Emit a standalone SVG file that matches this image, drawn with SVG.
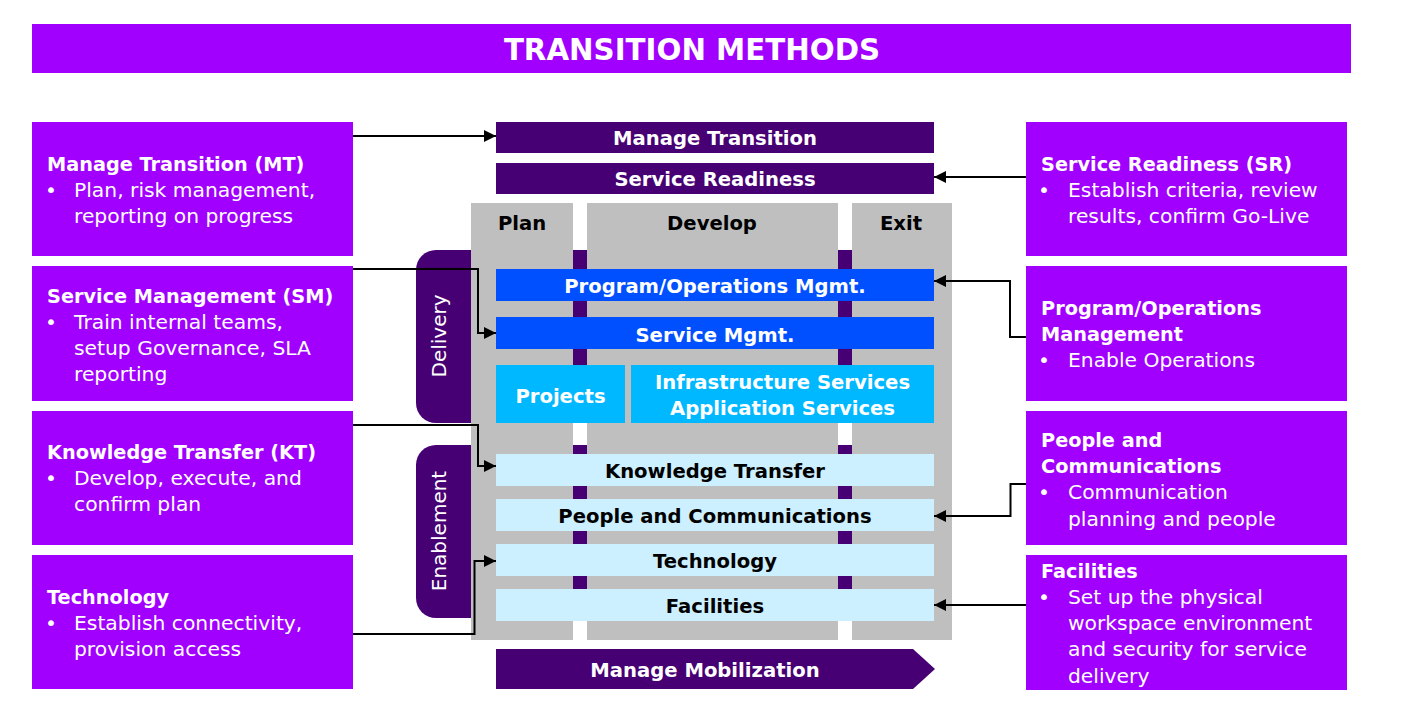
<svg xmlns="http://www.w3.org/2000/svg" width="1410" height="727" viewBox="0 0 1410 727">
<style>
  .box { fill: #A100FF; }
  .dark { fill: #460073; }
  .col { fill: #BFBFBF; }
  .blue { fill: #0050FF; }
  .cyan { fill: #00B8FF; }
  .pale { fill: #CCF0FF; }
  .t { font-family: "DejaVu Sans", "Liberation Sans", sans-serif; }
  .h { font-family: "DejaVu Sans", "Liberation Sans", sans-serif; font-weight: bold; font-size: 19.3px; fill: #FFFFFF; }
  .b { font-family: "DejaVu Sans", "Liberation Sans", sans-serif; font-size: 20.3px; fill: #FFFFFF; }
  .c { font-family: "DejaVu Sans", "Liberation Sans", sans-serif; font-weight: bold; font-size: 19.6px; text-anchor: middle; }
  .w { fill: #FFFFFF; }
  .k { fill: #000000; }
  .side { font-family: "DejaVu Sans", "Liberation Sans", sans-serif; font-size: 20px; fill: #FFFFFF; text-anchor: middle; }
  .conn { fill: none; stroke: #000000; stroke-width: 2; marker-end: url(#arr); }
</style>
<defs>
  <marker id="arr" markerUnits="userSpaceOnUse" markerWidth="14" markerHeight="14" viewBox="0 0 14 14" refX="13" refY="7" orient="auto">
    <path d="M1,1 L13,7 L1,13 Z" fill="#000000"/>
  </marker>
</defs>
<rect width="1410" height="727" fill="#FFFFFF"/>

<g id="title">
  <rect x="32" y="24" width="1319" height="49" class="box"/>
  <text x="692" y="60" text-anchor="middle" class="t" font-weight="bold" font-size="29.3" fill="#FFFFFF">TRANSITION METHODS</text>
</g>

<!-- backgrounds: delivery / enablement pills -->
<g id="delivery">
  <path d="M436,250 H952 V423 H436 A20,20 0 0 1 416,403 V270 A20,20 0 0 1 436,250 Z" class="dark"/>
  <text transform="translate(446,336) rotate(-90)" class="side">Delivery</text>
</g>
<g id="enablement">
  <path d="M436,445 H952 V618 H436 A20,20 0 0 1 416,598 V465 A20,20 0 0 1 436,445 Z" class="dark"/>
  <text transform="translate(446,531) rotate(-90)" class="side">Enablement</text>
</g>

<g id="col-plan">
  <rect x="471" y="203" width="102" height="437" class="col"/>
  <text x="522" y="230" class="c k">Plan</text>
</g>
<g id="col-develop">
  <rect x="587" y="203" width="251" height="437" class="col"/>
  <text x="712" y="230" class="c k">Develop</text>
</g>
<g id="col-exit">
  <rect x="852" y="203" width="100" height="437" class="col"/>
  <text x="901" y="230" class="c k">Exit</text>
</g>

<g id="bar-manage-transition">
  <rect x="496" y="122" width="438" height="31" class="dark"/>
  <text x="715" y="145" class="c w">Manage Transition</text>
</g>
<g id="bar-service-readiness">
  <rect x="496" y="163" width="438" height="31" class="dark"/>
  <text x="715" y="186" class="c w">Service Readiness</text>
</g>
<g id="row-program-ops">
  <rect x="496" y="269" width="438" height="32" class="blue"/>
  <text x="715" y="293" class="c w">Program/Operations Mgmt.</text>
</g>
<g id="row-service-mgmt">
  <rect x="496" y="317" width="438" height="32" class="blue"/>
  <text x="715" y="342" class="c w">Service Mgmt.</text>
</g>
<g id="row-projects">
  <rect x="496" y="365" width="129" height="58" class="cyan"/>
  <text x="560.5" y="403" class="c w">Projects</text>
</g>
<g id="row-infra-app">
  <rect x="631" y="365" width="303" height="58" class="cyan"/>
  <text x="782.5" y="389" class="c w">Infrastructure Services</text>
  <text x="782.5" y="415" class="c w">Application Services</text>
</g>
<g id="row-kt">
  <rect x="496" y="454" width="438" height="32" class="pale"/>
  <text x="715" y="478" class="c k">Knowledge Transfer</text>
</g>
<g id="row-people">
  <rect x="496" y="499" width="438" height="32" class="pale"/>
  <text x="715" y="523" class="c k">People and Communications</text>
</g>
<g id="row-technology">
  <rect x="496" y="544" width="438" height="32" class="pale"/>
  <text x="715" y="568" class="c k">Technology</text>
</g>
<g id="row-facilities">
  <rect x="496" y="589" width="438" height="32" class="pale"/>
  <text x="715" y="613" class="c k">Facilities</text>
</g>
<g id="manage-mobilization">
  <polygon points="496,649 913,649 935,669 913,689 496,689" class="dark"/>
  <text x="705" y="677" class="c w">Manage Mobilization</text>
</g>

<!-- left boxes -->
<g id="box-mt">
  <rect x="32" y="122" width="321" height="134" class="box"/>
  <text x="47" y="171" class="h">Manage Transition (MT)</text>
  <text x="51" y="197" class="b" text-anchor="middle">•</text>
  <text x="74" y="197" class="b">Plan, risk management,</text>
  <text x="74" y="223" class="b">reporting on progress</text>
</g>
<g id="box-sm">
  <rect x="32" y="266" width="321" height="135" class="box"/>
  <text x="47" y="303" class="h">Service Management (SM)</text>
  <text x="51" y="329" class="b" text-anchor="middle">•</text>
  <text x="74" y="329" class="b">Train internal teams,</text>
  <text x="74" y="355" class="b">setup Governance, SLA</text>
  <text x="74" y="381" class="b">reporting</text>
</g>
<g id="box-kt">
  <rect x="32" y="411" width="321" height="134" class="box"/>
  <text x="47" y="459" class="h">Knowledge Transfer (KT)</text>
  <text x="51" y="485" class="b" text-anchor="middle">•</text>
  <text x="74" y="485" class="b">Develop, execute, and</text>
  <text x="74" y="511" class="b">confirm plan</text>
</g>
<g id="box-tech">
  <rect x="32" y="555" width="321" height="134" class="box"/>
  <text x="47" y="604" class="h">Technology</text>
  <text x="51" y="630" class="b" text-anchor="middle">•</text>
  <text x="74" y="630" class="b">Establish connectivity,</text>
  <text x="74" y="656" class="b">provision access</text>
</g>

<!-- right boxes -->
<g id="box-sr">
  <rect x="1026" y="122" width="321" height="134" class="box"/>
  <text x="1041" y="171" class="h">Service Readiness (SR)</text>
  <text x="1044" y="197" class="b" text-anchor="middle">•</text>
  <text x="1068" y="197" class="b">Establish criteria, review</text>
  <text x="1068" y="223" class="b">results, confirm Go-Live</text>
</g>
<g id="box-pom">
  <rect x="1026" y="266" width="321" height="135" class="box"/>
  <text x="1041" y="315" class="h">Program/Operations</text>
  <text x="1041" y="341" class="h">Management</text>
  <text x="1044" y="367" class="b" text-anchor="middle">•</text>
  <text x="1068" y="367" class="b">Enable Operations</text>
</g>
<g id="box-people">
  <rect x="1026" y="411" width="321" height="134" class="box"/>
  <text x="1041" y="447" class="h">People and</text>
  <text x="1041" y="473" class="h">Communications</text>
  <text x="1044" y="499" class="b" text-anchor="middle">•</text>
  <text x="1068" y="499" class="b">Communication</text>
  <text x="1068" y="526" class="b">planning and people</text>
</g>
<g id="box-facilities">
  <rect x="1026" y="555" width="321" height="135" class="box"/>
  <text x="1041" y="578" class="h">Facilities</text>
  <text x="1044" y="604" class="b" text-anchor="middle">•</text>
  <text x="1068" y="604" class="b">Set up the physical</text>
  <text x="1068" y="630" class="b">workspace environment</text>
  <text x="1068" y="656" class="b">and security for service</text>
  <text x="1068" y="683" class="b">delivery</text>
</g>

<g id="connectors">
  <path class="conn" d="M353,136 H496"/>
  <path class="conn" d="M1026,177 H934"/>
  <path class="conn" d="M353,269 H478 V333 H496"/>
  <path class="conn" d="M1026,337 H1010 V281 H934"/>
  <path class="conn" d="M353,425 H478 V466 H496"/>
  <path class="conn" d="M353,634 H474.5 V561 H496"/>
  <path class="conn" d="M1026,484 H1010.5 V516 H934"/>
  <path class="conn" d="M1026,605 H934"/>
</g>
</svg>
